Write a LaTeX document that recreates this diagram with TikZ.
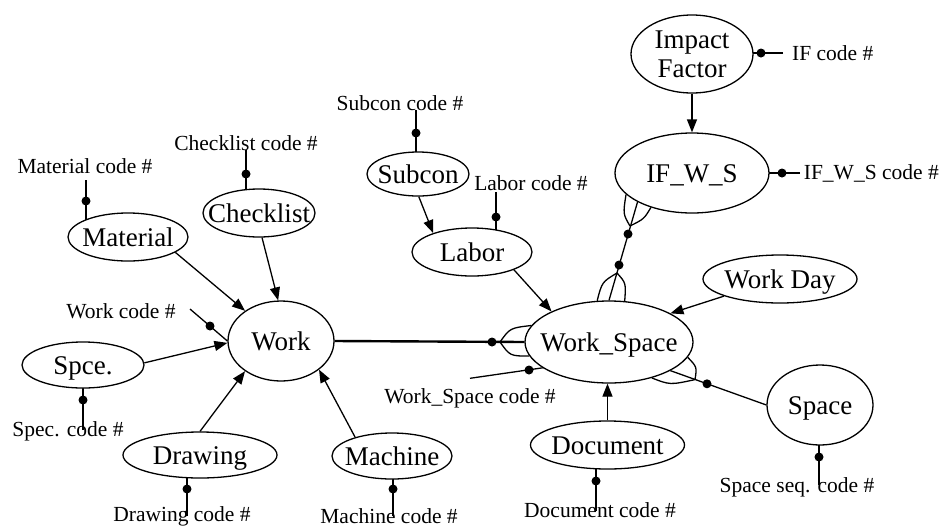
\documentclass[tikz,border=0pt]{standalone}
\usepackage{fontspec}
\setmainfont{Liberation Serif}
\usetikzlibrary{shapes.geometric,arrows.meta,backgrounds}
\newcommand{\entlabel}[1]{\makebox[0pt]{\raisebox{0pt}[0pt][0pt]{\raisebox{-0.34em}{#1}}}}
\begin{document}
\begin{tikzpicture}[x=1pt,y=-1pt,
  ent/.style={ellipse,draw,line width=1.3pt,fill=white,inner sep=0pt,font=\fontsize{27}{29}\selectfont},
  lab/.style={inner sep=0pt,font=\fontsize{21.5}{23}\selectfont},
  keydot/.style={circle,fill,inner sep=0pt,minimum size=9pt},
  conn/.style={line width=1.3pt},
  thickconn/.style={line width=2.4pt},
  arr/.style={conn,-{Triangle[length=13pt,width=10pt]}},
  ]
\useasboundingbox (0,0) rectangle (940,528);

% entities
\node[ent,minimum width=122pt,minimum height=78pt,align=center] (IF) at (692,54) {Impact\\Factor};
\node[ent,minimum width=154pt,minimum height=80pt] (IFWS) at (692,173) {\entlabel{IF\_W\_S}};
\node[ent,minimum width=102pt,minimum height=44pt] (Subcon) at (418,174) {\entlabel{Subcon}};
\node[ent,minimum width=120pt,minimum height=48pt] (Labor) at (472,252) {\entlabel{Labor}};
\node[ent,minimum width=112pt,minimum height=48pt] (Checklist) at (259,213) {\entlabel{Checklist}};
\node[ent,minimum width=120pt,minimum height=48pt] (Material) at (128,237) {\entlabel{Material}};
\node[ent,minimum width=106pt,minimum height=80pt] (Work) at (281,341) {\entlabel{Work}};
\node[ent,minimum width=122pt,minimum height=46pt] (Spce) at (83,365) {\entlabel{Spce.}};
\node[ent,minimum width=154pt,minimum height=46pt] (Drawing) at (200,455) {\entlabel{Drawing}};
\node[ent,minimum width=120pt,minimum height=46pt] (Machine) at (392,456) {\entlabel{Machine}};
\node[ent,minimum width=168pt,minimum height=82pt] (WS) at (609,342) {\entlabel{Work\_Space}};
\node[ent,minimum width=154pt,minimum height=48pt] (WorkDay) at (780,279) {\entlabel{Work Day}};
\node[ent,minimum width=154pt,minimum height=48pt] (Document) at (607.5,445) {\entlabel{Document}};
\node[ent,minimum width=106pt,minimum height=80pt] (Space) at (820,405) {\entlabel{Space}};

% key labels
\node[lab,anchor=west] (lIF) at (792,53) {IF code \#};
\node[lab,anchor=east] (lIFWS) at (939,173) {IF\_W\_S code \#};
\node[lab] (lSubcon) at (400,103) {Subcon code \#};
\node[lab] (lLabor) at (531,183) {Labor code \#};
\node[lab] (lChecklist) at (246,143) {Checklist code \#};
\node[lab] (lMaterial) at (85,166) {Material code \#};
\node[lab] (lWork) at (121,311) {Work code \#};
\node[lab] (lSpce) at (68,431) {Spec. code \#};
\node[lab] (lDrawing) at (182,516) {Drawing code \#};
\node[lab] (lMachine) at (389,516) {Machine code \#};
\node[lab] (lWS) at (470,398) {Work\_Space code \#};
\node[lab] (lDocument) at (600,510) {Document code \#};
\node[lab] (lSpace) at (797,487) {Space seq. code \#};

% free ends of key lines
\coordinate (kIF) at (783,53);
\coordinate (kIFWS) at (800,173);
\coordinate (kSubcon) at (416,110);
\coordinate (kLabor) at (496,192);
\coordinate (kChecklist) at (246,150);
\coordinate (kMaterial) at (86,180);
\coordinate (kWork) at (190,309);
\coordinate (kSpce) at (83,430);
\coordinate (kDrawing) at (187,516);
\coordinate (kMachine) at (393,516);
\coordinate (kWS) at (470,378.3);
\coordinate (kWSin) at (560,365.3);
\coordinate (kDocument) at (596,511);
\coordinate (kSpace) at (819,485);

% crow's foot convergence points
\coordinate (cW) at (500,342);
\coordinate (c1) at (617,273);
\coordinate (c2) at (630,226);
\coordinate (c3) at (695,379.6);

\begin{scope}[on background layer]
\fill[white] (0,0) rectangle (940,528);
% key lines
\draw[conn] (kIF) -- (kIF -| IF.center);
\draw[conn] (kIFWS) -- (kIFWS -| IFWS.center);
\draw[conn] (kSubcon) -- (kSubcon |- Subcon.center);
\draw[conn] (kLabor) -- (kLabor |- Labor.center);
\draw[conn] (kChecklist) -- (kChecklist |- Checklist.center);
\draw[conn] (kMaterial) -- (kMaterial |- Material.center);
\draw[conn] (kWork) -- (Work.west);
\draw[conn] (kSpce) -- (kSpce |- Spce.center);
\draw[conn] (kDrawing) -- (kDrawing |- Drawing.center);
\draw[conn] (kMachine) -- (kMachine |- Machine.center);
\draw[conn] (kWS) -- (kWSin);
\draw[conn] (kDocument) -- (kDocument |- Document.center);
\draw[conn] (kSpace) -- (kSpace |- Space.center);
% relationships with crow's feet
\draw[thickconn] (Work.east) -- (WS.west);
\draw[conn] (cW) .. controls (510,328) .. (WS.168);
\draw[conn] (cW) .. controls (510,356) .. (WS.190.5);
\draw[conn] (WS.90) -- (IFWS.208.6);
\draw[conn] (c1) .. controls (602,282) .. (WS.106);
\draw[conn] (c1) .. controls (626,283) .. (WS.69);
\draw[conn] (c2) .. controls (623,214) .. (IFWS.198.2);
\draw[conn] (c2) .. controls (644,219) .. (IFWS.220.4);
\draw[conn] (WS.-25.4) -- (Space.west);
\draw[conn] (c3) .. controls (670,385) .. (WS.-40);
\draw[conn] (c3) .. controls (697,367) .. (WS.-11.4);
\end{scope}

% dots
\node[keydot] (dIF) at (761,53) {};
\node[keydot] (dIFWS) at (782,173) {};
\node[keydot] (dSubcon) at (416,133) {};
\node[keydot] (dLabor) at (496,217) {};
\node[keydot] (dChecklist) at (246,174) {};
\node[keydot] (dMaterial) at (86,201) {};
\node[keydot] (dWork) at (210,326) {};
\node[keydot] (dSpce) at (83,400) {};
\node[keydot] (dDrawing) at (187,489) {};
\node[keydot] (dMachine) at (393,489) {};
\node[keydot] (dWS) at (529,370) {};
\node[keydot] (dDocument) at (596,481) {};
\node[keydot] (dSpace) at (819,457) {};
\node[keydot] (dWWS) at (492,342) {};
\node[keydot] (dWSa) at (619,265) {};
\node[keydot] (dWSb) at (628,234) {};
\node[keydot] (dWSSp) at (707,383.8) {};

% arrows
\draw[arr] (Material.-18) -- (Work.140);
\draw[arr] (Checklist.-83) -- (Work.94);
\draw[arr] (Spce.2) -- (Work.182);
\draw[arr] (Drawing.north) -- (Work.220);
\draw[arr] (Machine.153) -- (Work.-37);
\draw[arr] (Subcon.-88) -- (Labor.154);
\draw[arr] (Labor.-23) -- (WS.152);
\draw[arr] (WorkDay.197) -- (WS.25);
\draw[arr] (Document.north) -- (Document.north |- WS.south);
\draw[arr] (IF.south) -- (IFWS.north);
\end{tikzpicture}
\end{document}
